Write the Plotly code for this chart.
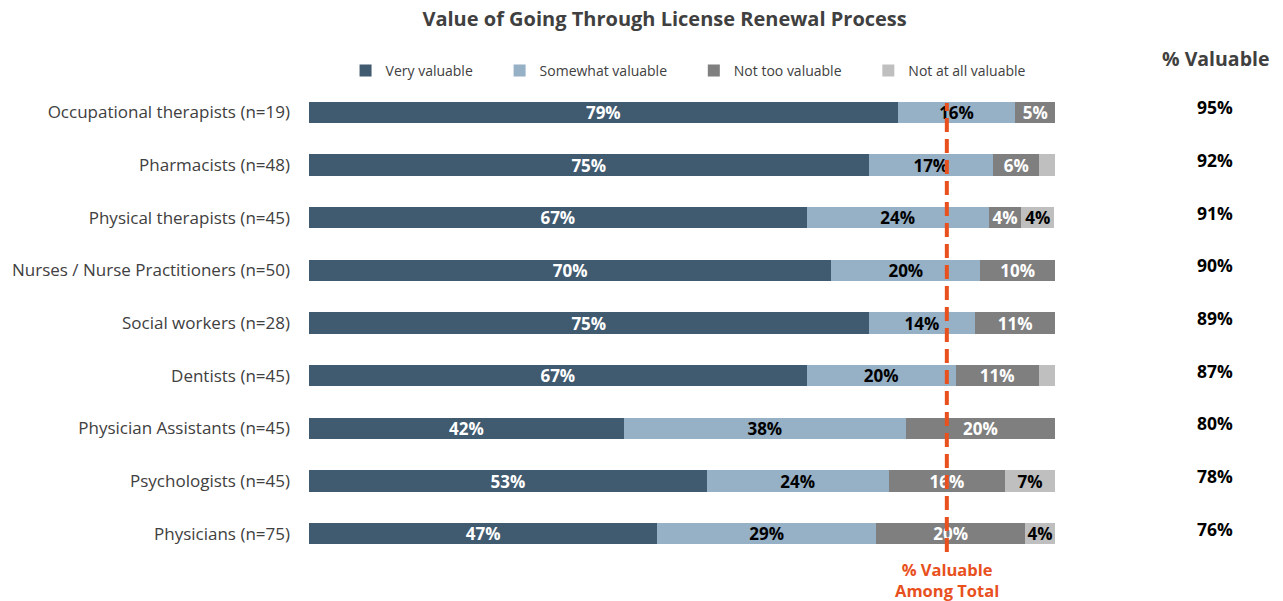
import plotly.graph_objects as go

# professions, top to bottom
groups = ["Occupational therapists (n=19)", "Pharmacists (n=48)", "Physical therapists (n=45)",
          "Nurses / Nurse Practitioners (n=50)", "Social workers (n=28)", "Dentists (n=45)",
          "Physician Assistants (n=45)", "Psychologists (n=45)", "Physicians (n=75)"]

very = [78.9, 75.0, 66.7, 70.0, 75.0, 66.7, 42.2, 53.3, 46.7]
somewhat = [15.8, 16.7, 24.4, 20.0, 14.3, 20.0, 37.8, 24.4, 29.3]
not_too = [5.3, 6.2, 4.4, 10.0, 10.7, 11.1, 20.0, 15.6, 20.0]
not_at_all = [0, 2.1, 4.4, 0, 0, 2.2, 0, 6.7, 4.0]

pct_valuable = [95, 92, 91, 90, 89, 87, 80, 78, 76]
avg_valuable = 85.5

series = [
    ("Very valuable", very, "#405a70", "white"),
    ("Somewhat valuable", somewhat, "#96b0c6", "black"),
    ("Not too valuable", not_too, "#7f7f7f", "white"),
    ("Not at all valuable", not_at_all, "#bfbfbf", "black"),
]

FONT = "Open Sans"
PAD = "\u00a0" * 6   # widen legend spacing

fig = go.Figure()
for name, vals, col, tcol in series:
    # small slivers (<3%) have no label in the original
    txt = [f"{round(v)}%" if v >= 3 else "" for v in vals]
    fig.add_trace(go.Bar(
        y=groups, x=vals, name=name + PAD, orientation="h",
        marker=dict(color=col, line=dict(width=0)),
        text=txt, textposition="inside", insidetextanchor="middle",
        textfont=dict(family=FONT, size=17, color=tcol, weight="bold"),
        constraintext="none", cliponaxis=False,
        hoverinfo="x+name",
    ))

annots = []
# % valuable column on the right
annots.append(dict(x=1.2145, y=1.057, xref="paper", yref="paper", text="<b>% Valuable</b>",
                   xanchor="center", yanchor="middle", showarrow=False,
                   font=dict(family=FONT, size=19.5, color="#404040")))
for g, p in zip(groups, pct_valuable):
    annots.append(dict(x=1.2145, y=g, xref="paper", yref="y", text=f"<b>{p}%</b>",
                       xanchor="center", yanchor="middle", showarrow=False, yshift=5,
                       font=dict(family=FONT, size=17.5, color="black")))

annots.append(dict(x=avg_valuable, y=0, xref="x", yref="paper", xanchor="center", yanchor="top",
                   yshift=4, text="<b>% Valuable<br>Among Total</b>", showarrow=False,
                   font=dict(family=FONT, size=16.5, color="#e8501e")))

fig.update_layout(
    width=1283, height=601,
    barmode="stack", bargap=0.6,
    paper_bgcolor="white", plot_bgcolor="white",
    margin=dict(l=309, r=228, t=86, b=41),
    title=dict(text="<b>Value of Going Through License Renewal Process</b>",
               x=0.518, xanchor="center", y=0.968, yanchor="middle",
               font=dict(family=FONT, size=20, color="#404040")),
    font=dict(family=FONT, color="#404040"),
    legend=dict(orientation="h", x=0.049, xanchor="left", y=1.032, yanchor="middle",
                font=dict(family=FONT, size=14, color="#404040"),
                traceorder="normal", itemwidth=30),
    xaxis=dict(range=[0, 100], visible=False),
    yaxis=dict(autorange="reversed", showgrid=False, showline=False, ticks="",
               automargin=False,
               tickfont=dict(family=FONT, size=17, color="#404040"),
               ticklabelstandoff=18),
    annotations=annots,
    shapes=[dict(type="line", xref="x", yref="paper", x0=avg_valuable, x1=avg_valuable,
                 y0=0.017, y1=0.964, line=dict(color="#e8501e", width=4, dash="14px,7px"))],
)

# drop the default 8px page margin so the figure fills the window
fig.write_html("out.html", config={"displayModeBar": False},
               post_script="document.body.style.margin='0';")
